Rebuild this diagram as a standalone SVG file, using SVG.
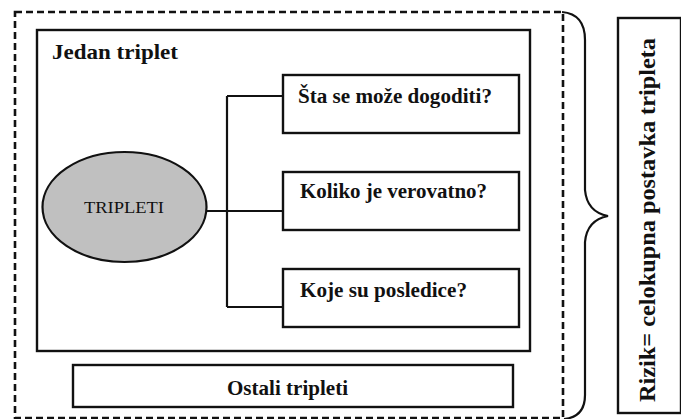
<svg xmlns="http://www.w3.org/2000/svg" width="681" height="419" viewBox="0 0 681 419">
<style>
.box{fill:#fff;stroke:#111;stroke-width:2.4}
.ln{fill:none;stroke:#111;stroke-width:2.2}
.b{font-family:"Liberation Serif","DejaVu Serif","Times New Roman",serif;font-weight:bold;fill:#111}
.r{font-family:"Liberation Serif","DejaVu Serif","Times New Roman",serif;fill:#111}
</style>
<rect width="681" height="419" fill="#fff"/>
<g id="outer">
<rect x="15" y="12" width="548" height="406" fill="none" stroke="#111" stroke-width="2.6" stroke-dasharray="7 4"/>
</g>
<g id="jedan-triplet">
<rect class="box" x="37" y="30" width="493" height="321"/>
<text class="b" x="52" y="59" font-size="22" textLength="126" lengthAdjust="spacingAndGlyphs">Jedan triplet</text>
</g>
<g id="connectors">
<path class="ln" d="M227,96 L227,307 M227,96 L283,96 M207,211 L283,211 M227,307 L283,307"/>
</g>
<g id="tripleti">
<ellipse cx="124.5" cy="207" rx="82" ry="55" fill="#c0c0c0" stroke="#111" stroke-width="2.2"/>
<text class="r" x="124" y="213" font-size="17" text-anchor="middle" textLength="80" lengthAdjust="spacingAndGlyphs">TRIPLETI</text>
</g>
<g id="q1">
<rect class="box" x="283" y="75" width="236" height="58"/>
<text class="b" x="298" y="103" font-size="20" textLength="194" lengthAdjust="spacingAndGlyphs">Šta se može dogoditi?</text>
</g>
<g id="q2">
<rect class="box" x="283" y="172" width="236" height="58"/>
<text class="b" x="300" y="198" font-size="20" textLength="187" lengthAdjust="spacingAndGlyphs">Koliko je verovatno?</text>
</g>
<g id="q3">
<rect class="box" x="283" y="269" width="236" height="58"/>
<text class="b" x="300" y="297" font-size="20" textLength="167" lengthAdjust="spacingAndGlyphs">Koje su posledice?</text>
</g>
<g id="ostali">
<rect class="box" x="73" y="365" width="440" height="42"/>
<text class="b" x="227" y="395" font-size="21" textLength="121" lengthAdjust="spacingAndGlyphs">Ostali tripleti</text>
</g>
<g id="brace">
<path class="ln" d="M562,12 Q585,14 585,40 L585,190 Q587,212 608,216 Q587,220 585,242 L585,395 Q585,417 564,419"/>
</g>
<g id="rizik">
<rect class="box" x="618" y="18" width="63" height="395"/>
<text class="b" transform="translate(655,220) rotate(-90)" font-size="23" text-anchor="middle" textLength="364" lengthAdjust="spacingAndGlyphs">Rizik= celokupna postavka tripleta</text>
</g>
</svg>
